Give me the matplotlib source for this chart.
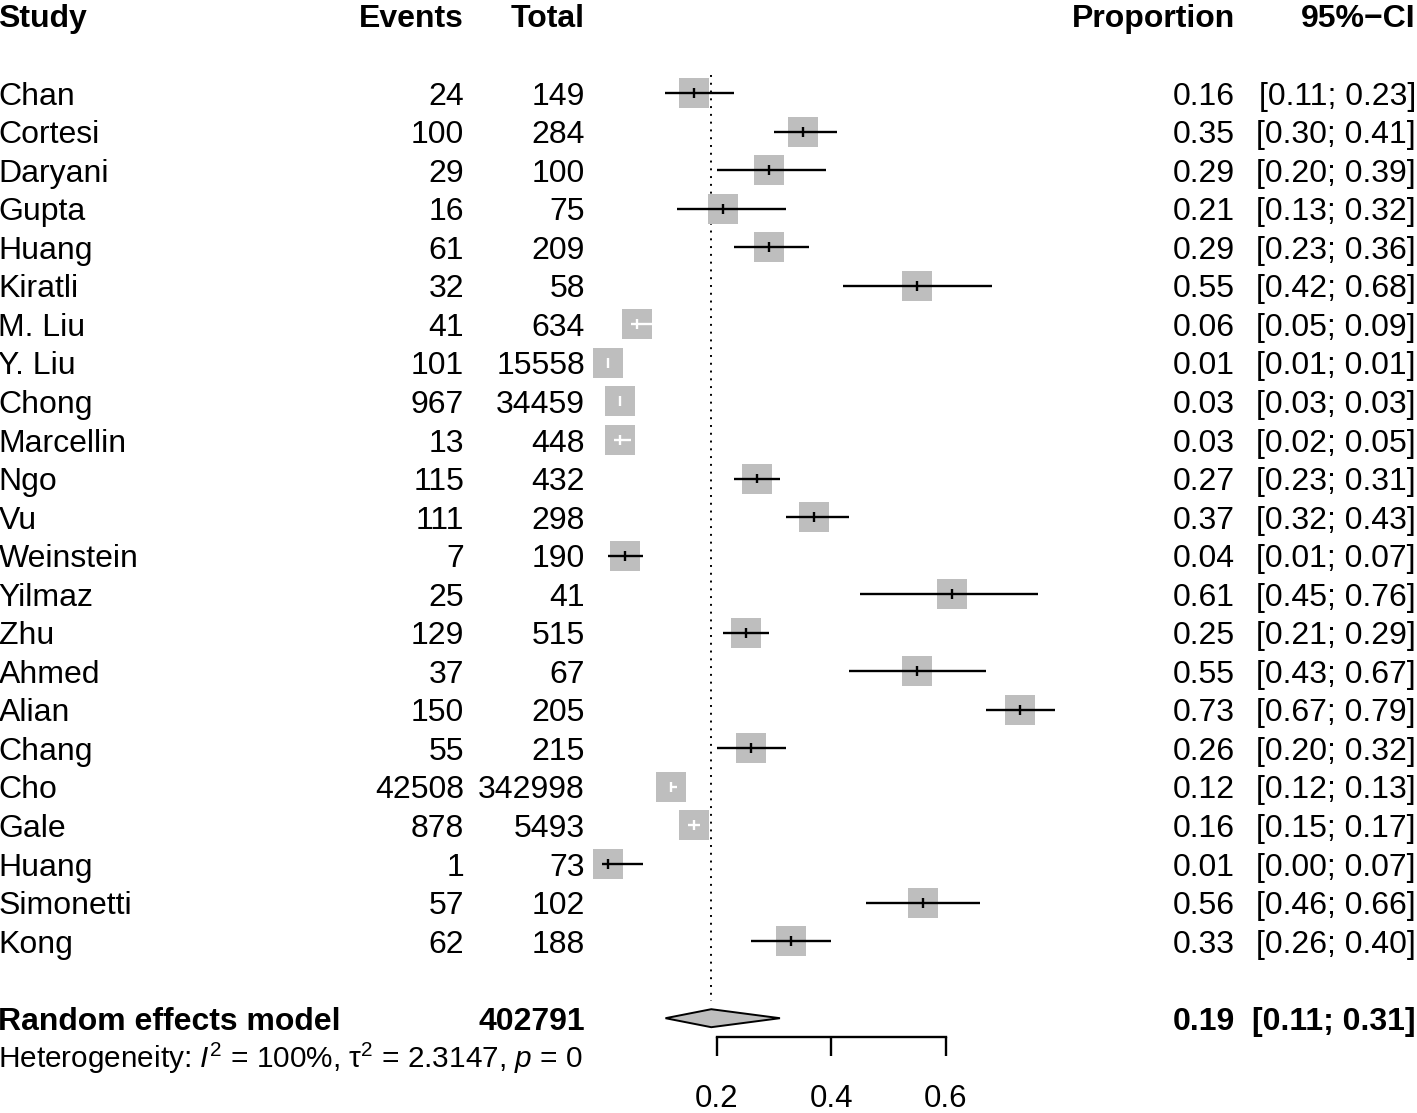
import matplotlib
matplotlib.use("Agg")
import matplotlib.pyplot as plt
from matplotlib.patches import Rectangle, Polygon
from matplotlib.transforms import blended_transform_factory

# ---------------- data ----------------
studies = ["Chan", "Cortesi", "Daryani", "Gupta", "Huang", "Kiratli", "M. Liu", "Y. Liu",
           "Chong", "Marcellin", "Ngo", "Vu", "Weinstein", "Yilmaz", "Zhu", "Ahmed", "Alian",
           "Chang", "Cho", "Gale", "Huang", "Simonetti", "Kong"]
events = [24, 100, 29, 16, 61, 32, 41, 101, 967, 13, 115, 111, 7, 25, 129, 37, 150, 55,
          42508, 878, 1, 57, 62]
totals = [149, 284, 100, 75, 209, 58, 634, 15558, 34459, 448, 432, 298, 190, 41, 515, 67,
          205, 215, 342998, 5493, 73, 102, 188]
prop = [0.16, 0.35, 0.29, 0.21, 0.29, 0.55, 0.06, 0.01, 0.03, 0.03, 0.27, 0.37, 0.04, 0.61,
        0.25, 0.55, 0.73, 0.26, 0.12, 0.16, 0.01, 0.56, 0.33]
ci_lo = [0.11, 0.30, 0.20, 0.13, 0.23, 0.42, 0.05, 0.01, 0.03, 0.02, 0.23, 0.32, 0.01, 0.45,
         0.21, 0.43, 0.67, 0.20, 0.12, 0.15, 0.00, 0.46, 0.26]
ci_hi = [0.23, 0.41, 0.39, 0.32, 0.36, 0.68, 0.09, 0.01, 0.03, 0.05, 0.31, 0.43, 0.07, 0.76,
         0.29, 0.67, 0.79, 0.32, 0.13, 0.17, 0.07, 0.66, 0.40]
re_label = "Random effects model"
re_total = 402791
re_prop = 0.19
re_lo = 0.11
re_hi = 0.31
het_text = r"Heterogeneity: $\mathit{I}^2$ = 100%, τ$^2$ = 2.3147, $\mathit{p}$ = 0"
xticks = [0.2, 0.4, 0.6]
xtick_labels = ["0.2", "0.4", "0.6"]
headers = ["Study", "Events", "Total", "Proportion", "95%\u2212CI"]

# ---------------- style ----------------
plt.rcParams['font.family'] = ['Liberation Sans', 'DejaVu Sans']
plt.rcParams['mathtext.fontset'] = 'custom'
plt.rcParams['mathtext.rm'] = 'Liberation Sans'
plt.rcParams['mathtext.it'] = 'Liberation Sans:italic'
plt.rcParams['mathtext.bf'] = 'Liberation Sans:bold'

W, H = 1417, 1113
fig = plt.figure(figsize=(W / 100, H / 100), dpi=100)
ax = fig.add_axes([0, 0, 1, 1])
x0_px, ppu = 602.5, 572.5
ax.set_xlim(-x0_px / ppu, (W - x0_px) / ppu)
row0_px, rowh = 93.0, 38.55
ax.set_ylim((H - row0_px) / rowh, -row0_px / rowh)

FS = 23
grey = "#BEBEBE"
lw = 1.7
box_w = 30 / ppu
box_h = 30 / rowh
tick_h = 5 / rowh
base_off = 0.30

tr = blended_transform_factory(fig.transFigure, ax.transData)
col_x = [-1.5 / W, 464 / W, 585 / W, 1235 / W, 1416 / W]
col_ha = ["left", "right", "right", "right", "right"]

# headers
for txt, cx, ha in zip(headers, col_x, col_ha):
    ax.text(cx, -2 + base_off, txt, transform=tr, ha=ha, va="baseline",
            fontsize=FS, fontweight="bold")

# studies
n = len(studies)
for i in range(n):
    y = i
    vals = [studies[i], str(events[i]), str(totals[i]), f"{prop[i]:.2f}",
            f"[{ci_lo[i]:.2f}; {ci_hi[i]:.2f}]"]
    for txt, cx, ha in zip(vals, col_x, col_ha):
        ax.text(cx, y + base_off, txt, transform=tr, ha=ha, va="baseline", fontsize=FS)
    ax.add_patch(Rectangle((prop[i] - box_w / 2, y - box_h / 2), box_w, box_h,
                           facecolor=grey, edgecolor="none", zorder=2))
    inside = (ci_hi[i] - ci_lo[i]) < box_w
    c = "white" if inside else "black"
    ax.plot([ci_lo[i], ci_hi[i]], [y, y], color=c, lw=lw, zorder=3, solid_capstyle="butt")
    ax.plot([prop[i], prop[i]], [y - tick_h, y + tick_h], color=c, lw=lw, zorder=3,
            solid_capstyle="butt")

# random effects row
yre = n + 1
ax.text(col_x[0], yre + base_off, re_label, transform=tr, ha="left", va="baseline",
        fontsize=FS, fontweight="bold")
ax.text(col_x[2], yre + base_off, str(re_total), transform=tr, ha="right", va="baseline",
        fontsize=FS, fontweight="bold")
ax.text(col_x[3], yre + base_off, f"{re_prop:.2f}", transform=tr, ha="right", va="baseline",
        fontsize=FS, fontweight="bold")
ax.text(col_x[4], yre + base_off, f"[{re_lo:.2f}; {re_hi:.2f}]", transform=tr, ha="right",
        va="baseline", fontsize=FS, fontweight="bold")
dh = 9 / rowh
ax.add_patch(Polygon([(re_lo, yre), (re_prop, yre - dh), (re_hi, yre), (re_prop, yre + dh)],
                     closed=True, facecolor=grey, edgecolor="black", lw=1.4, zorder=3))

# heterogeneity
ax.text(col_x[0], yre + 1 + base_off * 0.93, het_text, transform=tr, ha="left",
        va="baseline", fontsize=21.4)

# reference dotted line
ax.plot([re_prop, re_prop], [-0.47, yre - dh - 0.2], color="black", lw=1.4,
        linestyle=(0, (1, 3)), zorder=1)

# axis
for s in ["top", "left", "right"]:
    ax.spines[s].set_visible(False)
ax.spines["bottom"].set_position(("data", yre + 0.49))
ax.spines["bottom"].set_bounds(xticks[0], xticks[-1])
ax.spines["bottom"].set_linewidth(lw)
ax.set_yticks([])
ax.set_xticks(xticks)
ax.set_xticklabels(xtick_labels)
ax.tick_params(axis="x", direction="out", length=13.7, width=lw, labelsize=22.5, pad=20)
ax.patch.set_visible(False)

fig.savefig("out.png", dpi=100)
